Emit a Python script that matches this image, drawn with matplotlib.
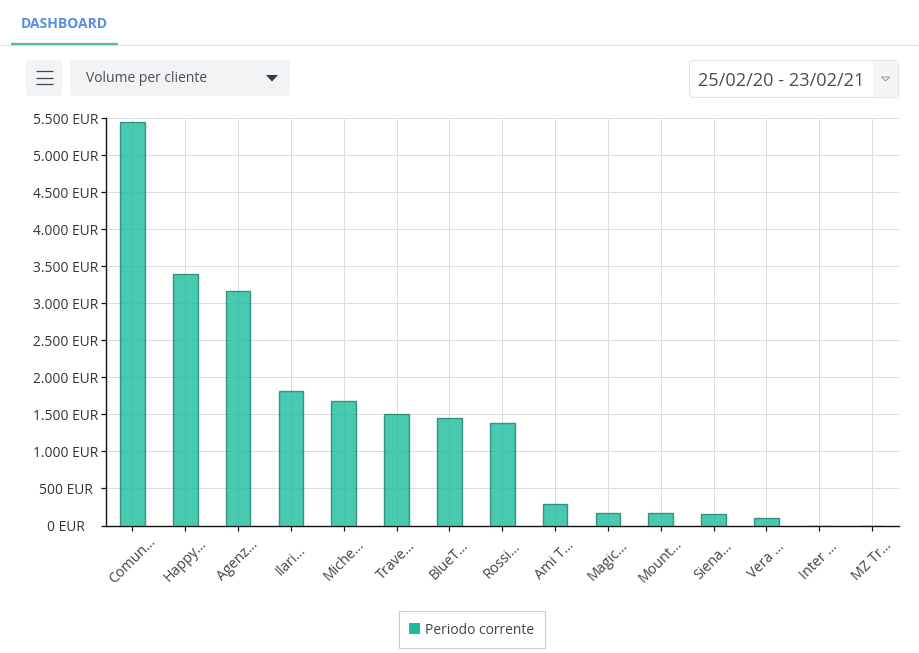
import matplotlib
matplotlib.use("Agg")
import matplotlib.pyplot as plt
from matplotlib.patches import FancyBboxPatch, Rectangle, Polygon
from matplotlib.lines import Line2D

plt.rcParams['font.family'] = ['Open Sans', 'DejaVu Sans']

W, H = 919, 653
categories = ["Comun...", "Happy...", "Agenz...", "Ilari...", "Miche...", "Trave...", "BlueT...", "Rossi...",
              "Ami T...", "Magic...", "Mount...", "Siena...", "Vera ...", "Inter ...", "MZ Tr..."]
values = [5450, 3400, 3170, 1820, 1680, 1510, 1450, 1390, 290, 175, 175, 150, 95, 0, 0]
y_ticks = [0, 500, 1000, 1500, 2000, 2500, 3000, 3500, 4000, 4500, 5000, 5500]
y_labels = ["0 EUR", "500 EUR", "1.000 EUR", "1.500 EUR", "2.000 EUR", "2.500 EUR", "3.000 EUR",
            "3.500 EUR", "4.000 EUR", "4.500 EUR", "5.000 EUR", "5.500 EUR"]
series_name = "Periodo corrente"
tab_title = "DASHBOARD"
select_label = "Volume per cliente"
date_range = "25/02/20 - 23/02/21"

fig = plt.figure(figsize=(W / 100, H / 100), dpi=100, facecolor="white")
ui = fig.add_axes([0, 0, 1, 1], zorder=0)
ui.set_xlim(0, W)
ui.set_ylim(H, 0)
ui.axis("off")

ax = fig.add_axes([106 / W, 1 - 525.5 / H, (898.5 - 106) / W, (525.5 - 118) / H], zorder=1)
ax.patch.set_alpha(0)
ax.set_xlim(-0.5, 14.5)
ax.set_ylim(0, 5500)
ax.bar(range(len(values)), values, width=0.47, color="#1abc9c", alpha=0.8,
       edgecolor="#17806a", linewidth=1, zorder=3)
ax.set_xticks(range(len(categories)))
ax.set_xticklabels(categories, rotation=45, ha="center", va="center", rotation_mode="anchor",
                   fontsize=10.3, color="#444444")
ax.set_yticks(y_ticks)
ax.set_yticklabels(y_labels, fontsize=9.9, color="#333333", ha="center")
ax.grid(True, color="#dddddd", linewidth=0.72, zorder=0)
ax.set_axisbelow(True)
for s in ("top", "right"):
    ax.spines[s].set_visible(False)
for s in ("left", "bottom"):
    ax.spines[s].set_color("#111111")
    ax.spines[s].set_linewidth(1.0)
ax.tick_params(axis="y", length=3.6, width=0.9, color="#111111", pad=25.2)
ax.tick_params(axis="x", length=3.6, width=0.9, color="#111111", pad=21.9)

# header
ui.add_line(Line2D([0, W], [44.5, 44.5], color="#e0e0e0", lw=0.8, solid_capstyle="butt"))
ui.add_line(Line2D([11, 118], [43.5, 43.5], color="#52bf8a", lw=1.6, solid_capstyle="butt"))
ui.text(64.5, 24.5, tab_title, color="#5b8de0", fontsize=10, fontweight="bold", ha="center", va="center")

def box(x0, y0, x1, y1, fc, ec="none", r=4):
    ui.add_patch(FancyBboxPatch((x0 + r, y0 + r), x1 - x0 - 2 * r, y1 - y0 - 2 * r,
                                boxstyle=f"round,pad={r},rounding_size={r}", fc=fc, ec=ec, lw=0.8))

box(26, 60, 62, 96, "#f1f3f5")
for yy in (71, 78, 84):
    ui.add_line(Line2D([35.5, 53], [yy, yy], color="#3f4650", lw=0.9, solid_capstyle="butt"))
box(70, 60, 290, 96, "#f1f3f5")
ui.text(86, 78.5, select_label, color="#4a4f55", fontsize=10, ha="left", va="center")
ui.add_patch(Polygon([[266, 75], [278, 75], [272, 81.5]], fc="#2f3b47", ec="none"))

box(689.5, 60.5, 898.5, 97.5, "white", ec="#e3e3e3")
ui.add_patch(Rectangle((873, 61), 25, 36, fc="#f5f5f5", ec="none"))
ui.text(698, 81, date_range, color="#4d4d4d", fontsize=13.1, ha="left", va="center")
ui.add_patch(Polygon([[881.5, 77], [889.5, 77], [885.5, 81]], fc="none", ec="#999999", lw=0.7))

# legend
ui.add_patch(Rectangle((398.5, 610.5), 146, 37, fc="white", ec="#cccccc", lw=0.8))
ui.add_patch(Rectangle((409, 623), 11, 11, fc="#1abc9c", ec="none"))
ui.text(425, 630, series_name, color="#444444", fontsize=10, ha="left", va="center")

fig.savefig("out.png", dpi=100)
